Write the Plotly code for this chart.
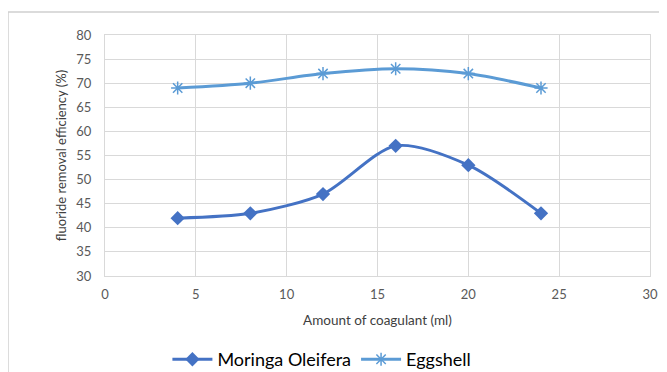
import plotly.graph_objects as go

coagulant_ml = [4, 8, 12, 16, 20, 24]
moringa = [42, 43, 47, 57, 53, 43]
eggshell = [69, 70, 72, 73, 72, 69]

FONT = "Lato"
# page body has an 8px margin; compensate so the figure fills 667x372
W, H = 659, 364
fig = go.Figure()
fig.add_trace(go.Scatter(
    x=coagulant_ml, y=moringa, name="Moringa Oleifera", mode="lines+markers",
    line=dict(color="#4472C4", width=3, shape="spline", smoothing=0.8),
    marker=dict(symbol="diamond", size=11, color="#4472C4"),
))
fig.add_trace(go.Scatter(
    x=coagulant_ml, y=eggshell, name="Eggshell", mode="lines+markers",
    line=dict(color="#5B9BD5", width=3, shape="spline", smoothing=0.8),
    marker=dict(symbol="asterisk-open", size=11, color="#5B9BD5",
                line=dict(color="#5B9BD5", width=1.5)),
))

grid = "#d9d9d9"
fig.update_xaxes(range=[0, 30], dtick=5, showgrid=True, gridcolor=grid, gridwidth=1,
                 zeroline=False, showline=True, linecolor=grid, mirror=True,
                 ticks="", ticklabelstandoff=6,
                 tickfont=dict(size=13, color="#595959", family=FONT),
                 title=dict(text="Amount of coagulant (ml)", standoff=14,
                            font=dict(size=13.5, color="#404040", family=FONT)))
fig.update_yaxes(range=[30, 80], dtick=5, showgrid=True, gridcolor=grid, gridwidth=1,
                 zeroline=False, showline=True, linecolor=grid, mirror=True,
                 ticks="", ticklabelstandoff=10,
                 tickfont=dict(size=13, color="#595959", family=FONT),
                 title=dict(text="fluoride removal efficiency (%)", standoff=6,
                            font=dict(size=13, color="#404040", family=FONT)))

fig.add_shape(type="rect", xref="paper", yref="paper",
              x0=-0.178, x1=1.2, y0=-0.6, y1=1.095,
              line=dict(color="#d0d0d0", width=1.5), fillcolor="rgba(0,0,0,0)",
              layer="below")

fig.update_layout(
    width=W, height=H,
    margin=dict(l=97, r=17, t=27, b=96, autoexpand=False),
    paper_bgcolor="white", plot_bgcolor="white",
    font=dict(family=FONT),
    showlegend=True,
    legend=dict(orientation="h", x=0.398, xanchor="center", y=-0.27, yanchor="top",
                font=dict(size=18, color="#000000", family=FONT),
                itemwidth=40),
)

fig.write_html("out.html")
